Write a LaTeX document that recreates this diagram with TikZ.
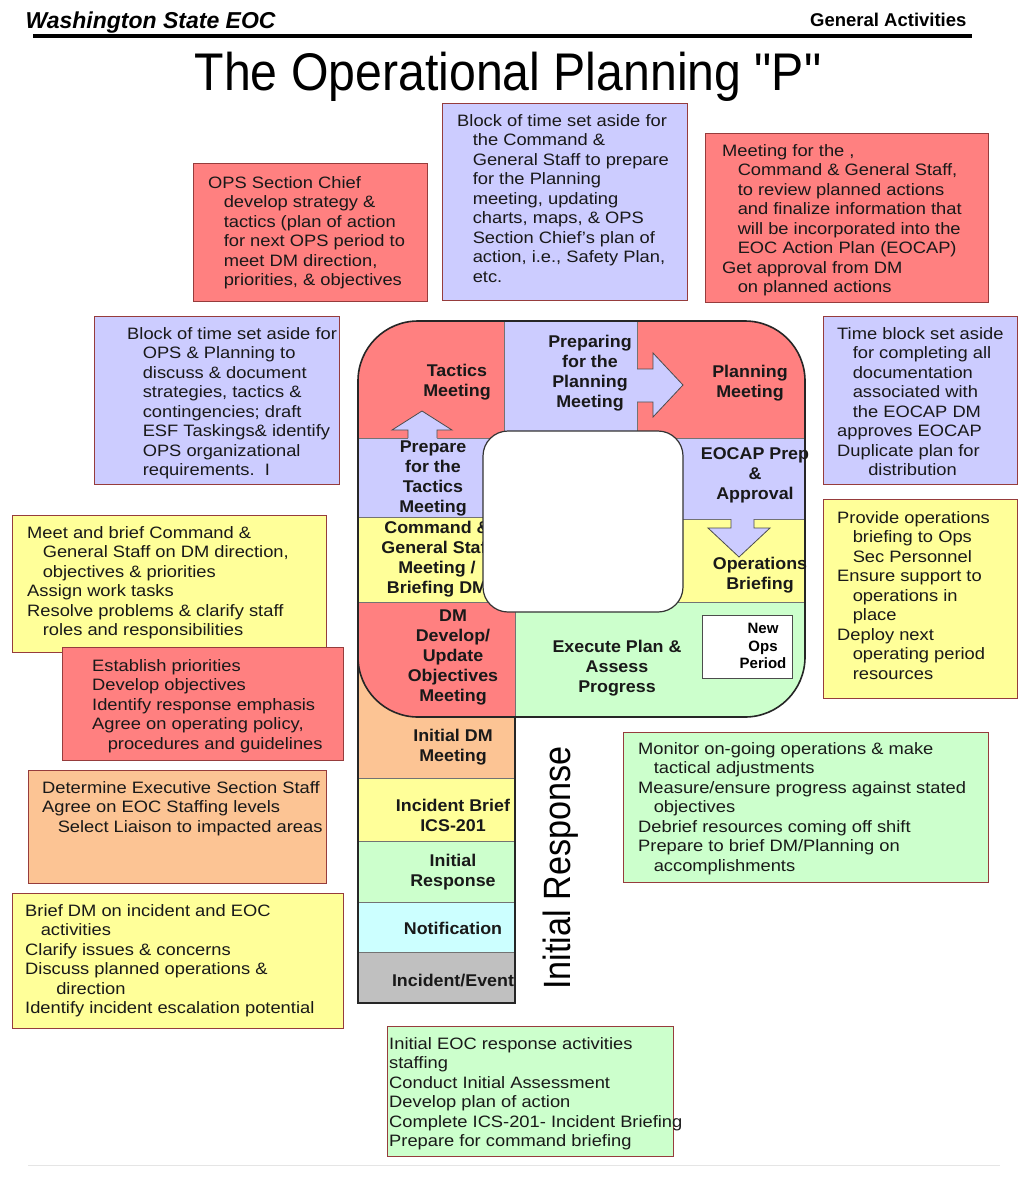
\documentclass[tikz,border=0pt]{standalone}
\usepackage{fontspec}
\setmainfont{Liberation Sans}
\newfontfamily\titlefont{Liberation Sans}
\usepackage{xcolor}
\usepackage{tikz}

\definecolor{cellred}{RGB}{255,128,128}
\definecolor{cellblue}{RGB}{204,204,255}
\definecolor{cellyellow}{RGB}{255,255,153}
\definecolor{cellgreen}{RGB}{204,255,204}
\definecolor{cellorange}{RGB}{252,196,148}
\definecolor{cellcyan}{RGB}{204,255,255}
\definecolor{cellgray}{RGB}{192,192,192}
\definecolor{noteline}{RGB}{150,60,60}

\newcommand{\notefont}{\fontsize{16.5}{19.5}\selectfont}
\newcommand{\cellfont}{\bfseries\fontsize{17}{20}\selectfont}
\newcommand{\indt}{\hspace*{14pt}}

\begin{document}
\begin{tikzpicture}[
  x=1pt, y=-1pt,
  note/.style={
    rectangle,
    draw=noteline,
    line width=1.2pt,
    fill=#1,
    anchor=north west,
    inner sep=0pt
  },
  notetext/.style={
    font=\notefont,
    text=black!90,
    align=left,
    anchor=north west,
    inner sep=0pt,
    xscale=1.11
  },
  cell/.style={
    draw=black!55,
    line width=0.6pt,
    fill=#1
  },
  celltext/.style={
    font=\cellfont,
    text=black!90,
    align=center,
    inner sep=0pt,
    xscale=1.05
  },
  pline/.style={
    draw=black!85,
    line width=1.6pt
  },
  blockedge/.style={
    draw=black!70,
    line width=0.8pt
  }
]
\useasboundingbox (0,0) rectangle (1018,1184);

% Header and title
\node[anchor=base west, font=\bfseries\itshape\fontsize{23}{27}\selectfont] (org) at (22,28) {Washington State EOC};
\node[anchor=base east, font=\bfseries\fontsize{18.5}{22}\selectfont] (section) at (970,26) {General Activities};
\draw[line width=3.5pt] (33,36) -- (972,36);
\node[anchor=base, font=\titlefont\fontsize{53}{60}\selectfont, xscale=0.91] (title) at (508,90) {The Operational Planning "P"};

% Notes around the P
\node[note=cellred, minimum width=234, minimum height=138] (opsnote) at (193,163) {};
\node[notetext] (opstext) at (208,176) {OPS Section Chief\\ \indt develop strategy \&\\ \indt tactics (plan of action\\ \indt for next OPS period to\\ \indt meet DM direction,\\ \indt priorities, \& objectives};

\node[note=cellblue, minimum width=245, minimum height=197] (prepnote) at (442,103) {};
\node[notetext] (preptext) at (457,114) {Block of time set aside for\\ \indt the Command \&\\ \indt General Staff to prepare\\ \indt for the Planning\\ \indt meeting, updating\\ \indt charts, maps, \& OPS\\ \indt Section Chief's plan of\\ \indt action, i.e., Safety Plan,\\ \indt etc.};

\node[note=cellred, minimum width=283, minimum height=169] (plannote) at (705,133) {};
\node[notetext] (plantext) at (722,144) {Meeting for the ,\\ \indt Command \& General Staff,\\ \indt to review planned actions\\ \indt and finalize information that\\ \indt will be incorporated into the\\ \indt EOC Action Plan (EOCAP)\\ Get approval from DM\\ \indt on planned actions};

\node[note=cellblue, minimum width=245, minimum height=168] (tacnote) at (94,316) {};
\node[notetext] (tactext) at (127,327) {Block of time set aside for\\ \indt OPS \& Planning to\\ \indt discuss \& document\\ \indt strategies, tactics \&\\ \indt contingencies; draft\\ \indt ESF Taskings\& identify\\ \indt OPS organizational\\ \indt requirements.\ \ I};

\node[note=cellblue, minimum width=194, minimum height=168] (eocnote) at (823,316) {};
\node[notetext] (eoctext) at (837,327) {Time block set aside\\ \indt for completing all\\ \indt documentation\\ \indt associated with\\ \indt the EOCAP DM\\ approves EOCAP\\ Duplicate plan for\\ \indt\indt distribution};

\node[note=cellyellow, minimum width=194, minimum height=199] (briefopsnote) at (823,499) {};
\node[notetext] (briefopstext) at (837,511) {Provide operations\\ \indt briefing to Ops\\ \indt Sec Personnel\\ Ensure support to\\ \indt operations in\\ \indt place\\ Deploy next\\ \indt operating period\\ \indt resources};

\node[note=cellyellow, minimum width=314, minimum height=137] (cgsnote) at (12,515) {};
\node[notetext] (cgstext) at (27,526) {Meet and brief Command \&\\ \indt General Staff on DM direction,\\ \indt objectives \& priorities\\ Assign work tasks\\ Resolve problems \& clarify staff\\ \indt roles and responsibilities};

\node[note=cellred, minimum width=281, minimum height=113] (dmnote) at (62,647) {};
\node[notetext] (dmtext) at (92,659) {Establish priorities\\ Develop objectives\\ Identify response emphasis\\ Agree on operating policy,\\ \indt procedures and guidelines};

\node[note=cellorange, minimum width=298, minimum height=113] (staffnote) at (28,770) {};
\node[notetext] (stafftext) at (42,781) {Determine Executive Section Staff\\ Agree on EOC Staffing levels\\ \indt Select Liaison to impacted areas};

\node[note=cellyellow, minimum width=331, minimum height=135] (initbriefnote) at (12,893) {};
\node[notetext] (initbrieftext) at (25,904) {Brief DM on incident and EOC\\ \indt activities\\ Clarify issues \& concerns\\ Discuss planned operations \&\\ \indt\indt direction\\ Identify incident escalation potential};

\node[note=cellgreen, minimum width=365, minimum height=150] (execnote) at (623,732) {};
\node[notetext] (exectext) at (638,742) {Monitor on-going operations \& make\\ \indt tactical adjustments\\ Measure/ensure progress against stated\\ \indt objectives\\ Debrief resources coming off shift\\ Prepare to brief DM/Planning on\\ \indt accomplishments};

\node[note=cellgreen, minimum width=286, minimum height=130] (initnote) at (387,1026) {};
\node[notetext] (inittext) at (389,1037) {Initial EOC response activities\\ staffing\\ Conduct Initial Assessment\\ Develop plan of action\\ Complete ICS-201- Incident Briefing\\ Prepare for command briefing};

% Stem of the P
\draw[cell=cellorange] (358,660) rectangle (515,778);
\draw[cell=cellyellow] (358,778) rectangle (515,841);
\draw[cell=cellgreen] (358,841) rectangle (515,902);
\draw[cell=cellcyan] (358,902) rectangle (515,952);
\draw[cell=cellgray] (358,952) rectangle (515,1003);
\draw[pline] (358,660) rectangle (515,1003);

% Loop of the P
\begin{scope}
\clip[rounded corners=60] (358,321) rectangle (805,717);
\draw[cell=cellred] (358,321) rectangle (504,438);
\draw[cell=cellblue] (504,321) rectangle (637,438);
\draw[cell=cellred] (637,321) rectangle (805,438);
\draw[cell=cellblue] (358,438) rectangle (504,517);
\draw[cell=cellyellow] (358,517) rectangle (515,602);
\draw[cell=cellred] (358,602) rectangle (515,717);
\draw[cell=cellblue] (637,438) rectangle (805,519);
\draw[cell=cellyellow] (637,519) rectangle (805,602);
\draw[cell=cellgreen] (515,602) rectangle (805,717);
\end{scope}

% Block arrows
\fill[cellblue] (408,442) -- (408,430) -- (392,430) -- (422,411) -- (452,430) -- (437,430) -- (437,442) -- cycle;
\draw[blockedge] (408,438) -- (408,430) -- (392,430) -- (422,411) -- (452,430) -- (437,430) -- (437,438);
\fill[cellblue] (633,369) -- (653,369) -- (653,353) -- (683,385) -- (653,417) -- (653,402) -- (633,402) -- cycle;
\draw[blockedge] (637,369) -- (653,369) -- (653,353) -- (683,385) -- (653,417) -- (653,402) -- (637,402);
\fill[cellblue] (731,515) -- (731,528) -- (708,528) -- (739,557) -- (770,528) -- (754,528) -- (754,515) -- cycle;
\draw[blockedge] (731,519) -- (731,528) -- (708,528) -- (739,557) -- (770,528) -- (754,528) -- (754,519);

\draw[pline, rounded corners=60] (358,321) rectangle (805,717);

% Cell labels
\node[celltext] (tactics) at (457,382) {Tactics\\Meeting};
\node[celltext] (preparing) at (590,373) {Preparing\\for the\\Planning\\Meeting};
\node[celltext] (planning) at (750,383) {Planning\\Meeting};
\node[celltext] (preptactics) at (433,478) {Prepare\\for the\\Tactics\\Meeting};
\node[celltext] (cgsmeeting) at (437,559) {Command \&\\General Staff\\Meeting /\\Briefing DM};
\node[celltext] (eocap) at (755,475) {EOCAP Prep\\\&\\Approval};
\node[celltext] (opsbriefing) at (760,575) {Operations\\Briefing};
\node[celltext] (dmmeeting) at (453,657) {DM\\Develop/\\Update\\Objectives\\Meeting};
\node[celltext] (execute) at (617,668) {Execute Plan \&\\Assess\\Progress};
\node[celltext] (initdm) at (453,747) {Initial DM\\Meeting};
\node[celltext] (brief201) at (453,815) {Incident Brief\\ICS-201};
\node[celltext] (initresponse) at (453,872) {Initial\\Response};
\node[celltext] (notification) at (453,928) {Notification};
\node[celltext] (incident) at (453,980) {Incident/Event};

% Centre of the P and new period box
\draw[fill=white, draw=black!80, line width=1.2pt, rounded corners=25] (483,431) rectangle (683,612);
\node[draw=black!70, fill=white, line width=0.8pt, minimum width=90, minimum height=63, anchor=north west, inner sep=0pt] (newbox) at (702,615) {};
\node[font=\bfseries\fontsize{15}{17.5}\selectfont, align=center, inner sep=0pt] (newops) at (763,646) {New\\Ops\\Period};

\node[rotate=90, xscale=0.9, anchor=base, font=\fontsize{38}{42}\selectfont] (phase) at (570,868) {Initial Response};

\draw[black!10, line width=1pt] (28,1165) -- (1000,1165);
\end{tikzpicture}
\end{document}
